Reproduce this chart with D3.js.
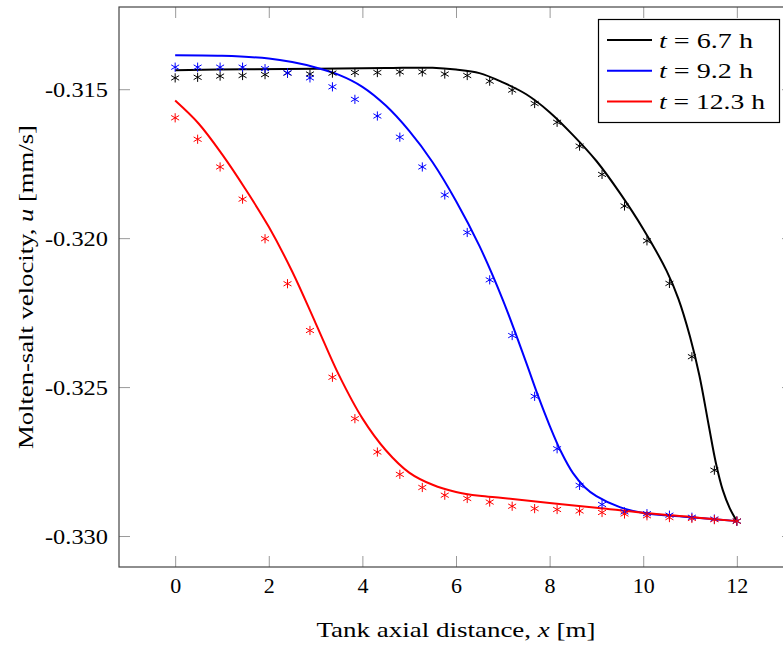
<!DOCTYPE html>
<html>
<head>
<meta charset="utf-8">
<script src="https://cdn.jsdelivr.net/npm/d3@7"></script>
<style>
  body { margin: 0; background: #fff; }
  svg text { font-family: "Liberation Serif", "DejaVu Serif", serif; }
</style>
</head>
<body>
<svg id="chart" width="783" height="646"></svg>
<script>
// ------------------------------------------------
// molten-salt velocity profiles along the tank
// lines = model, asterisks = measured points
// ------------------------------------------------

var seriesNames = ["t = 6.7 h", "t = 9.2 h", "t = 12.3 h"];
var seriesColors = ["#000000", "#0000ff", "#ff0000"];
var legendTimes = ["6.7", "9.2", "12.3"];

// marker positions along the tank [m]
var markerX = [0, 0.48, 0.96, 1.44, 1.92, 2.4, 2.88, 3.36, 3.84, 4.32, 4.8, 5.28, 5.76,
               6.24, 6.72, 7.2, 7.68, 8.16, 8.64, 9.12, 9.6, 10.08, 10.56, 11.04, 11.52, 12];

var markers67 = [-0.31462, -0.31460, -0.31456, -0.31454, -0.31451, -0.31446, -0.31449, -0.31446,
                 -0.31444, -0.31444, -0.31442, -0.31442, -0.31449, -0.31454, -0.31473, -0.31503,
                 -0.31548, -0.31611, -0.31691, -0.31786, -0.31892, -0.32009, -0.32152, -0.32398,
                 -0.32779, -0.32950];
var markers92 = [-0.31426, -0.31426, -0.31426, -0.31426, -0.31431, -0.31445, -0.31462, -0.31492,
                 -0.31534, -0.31590, -0.31661, -0.31761, -0.31855, -0.31981, -0.32140, -0.32327,
                 -0.32531, -0.32707, -0.32830, -0.32894, -0.32919, -0.32925, -0.32930, -0.32937,
                 -0.32943, -0.32950];
var markers123 = [-0.31596, -0.31668, -0.31761, -0.31869, -0.32002, -0.32153, -0.32310, -0.32467,
                  -0.32606, -0.32718, -0.32793, -0.32837, -0.32863, -0.32874, -0.32886, -0.32900,
                  -0.32908, -0.32911, -0.32916, -0.32921, -0.32926, -0.32932, -0.32938, -0.32941,
                  -0.32945, -0.32950];

// model curves
var line67X = [0, 1.5, 3, 4.5, 5.5, 6.0, 6.5, 7.0, 7.5, 8.0, 8.5, 9.0, 9.5, 10.0, 10.5,
               10.75, 11.0, 11.2, 11.4, 11.55, 11.7, 11.85, 12];
var line67U = [-0.31436, -0.31433, -0.31431, -0.31429, -0.31428, -0.31434, -0.31446, -0.31477,
               -0.31517, -0.31577, -0.31654, -0.31741, -0.31848, -0.31969, -0.32110,
               -0.32203, -0.32331, -0.32461, -0.32629, -0.32753, -0.32846, -0.32907, -0.32950];

var line92X = [0, 1.0, 2.0, 2.5, 3.0, 3.5, 4.0, 4.5, 5.0, 5.5, 6.0, 6.5, 7.0, 7.5, 7.75,
               8.0, 8.25, 8.5, 8.75, 9.0, 9.5, 10.0, 11.0, 12];
var line92U = [-0.31386, -0.31388, -0.31397, -0.31409, -0.31427, -0.31452, -0.31492, -0.31555,
               -0.31640, -0.31745, -0.31875, -0.32026, -0.32207, -0.32418, -0.32528,
               -0.32629, -0.32719, -0.32789, -0.32836, -0.32866, -0.32903, -0.32923,
               -0.32937, -0.32950];

var line123X = [0, 0.5, 1.0, 1.5, 2.0, 2.5, 3.0, 3.5, 4.0, 4.5, 5.0, 5.5, 6.0, 6.5, 7.0,
                8.0, 9.0, 10.0, 11.0, 12];
var line123U = [-0.31538, -0.31615, -0.31718, -0.31835, -0.31962, -0.32112, -0.32285, -0.32460,
                -0.32605, -0.32712, -0.32787, -0.32828, -0.32852, -0.32865, -0.32872,
                -0.32889, -0.32905, -0.32922, -0.32936, -0.32950];

var xTicks = [0, 2, 4, 6, 8, 10, 12];
var yTicks = [-0.315, -0.320, -0.325, -0.330];
var yTickLabels = ["-0.315", "-0.320", "-0.325", "-0.330"];

(function() {

	var svg = d3.select("#chart");

	// plot box (right edge runs off the page, like the reference)
	var left = 119, top = 7, right = 793, bottom = 567;
	var tickLen = 11;
	var fontSize = 22;

	var x = d3.scaleLinear().domain([-1.2, 13.2]).range([left, right]);
	var y = d3.scaleLinear().domain([-0.33104, -0.31224]).range([bottom, top]);

	// --------------------------------
	// axes - ticks point inward on all sides
	// --------------------------------
	var gBottom = svg.append("g").attr("transform", "translate(0," + bottom + ")")
		.call(d3.axisBottom(x).tickValues(xTicks).tickSize(-tickLen).tickFormat(d3.format("d")));
	gBottom.selectAll("text").attr("y", 26).attr("dy", 0);

	svg.append("g").attr("transform", "translate(0," + top + ")")
		.call(d3.axisTop(x).tickValues(xTicks).tickSize(-tickLen).tickFormat(""));

	var gLeft = svg.append("g").attr("transform", "translate(" + left + ",0)")
		.call(d3.axisLeft(y).tickValues(yTicks).tickSize(-tickLen).tickPadding(11)
			.tickFormat(function(d, i){ return yTickLabels[i]; }));
	// computer-modern digits run wider than Times
	gLeft.selectAll("text").attr("textLength", 63).attr("lengthAdjust", "spacingAndGlyphs");

	svg.append("g").attr("transform", "translate(" + right + ",0)")
		.call(d3.axisRight(y).tickValues(yTicks).tickSize(-tickLen).tickFormat(""));

	svg.selectAll(".domain").remove();
	svg.selectAll(".tick line").attr("stroke", "#9a9a9a").attr("stroke-width", 1);
	svg.selectAll(".tick text").attr("font-size", fontSize).attr("fill", "#000")
		.style("font-family", "'Liberation Serif', serif");

	svg.append("rect")
		.attr("x", left).attr("y", top)
		.attr("width", right - left).attr("height", bottom - top)
		.attr("fill", "none").attr("stroke", "#444").attr("stroke-width", 1.2);

	// --------------------------------
	// axis titles
	// --------------------------------
	var xl = svg.append("text")
		.attr("x", (left + right) / 2).attr("y", 637)
		.attr("text-anchor", "middle").attr("font-size", fontSize)
		.attr("textLength", 279).attr("lengthAdjust", "spacingAndGlyphs");
	xl.append("tspan").text("Tank axial distance, ");
	xl.append("tspan").attr("font-style", "italic").text("x");
	xl.append("tspan").text(" [m]");

	var yl = svg.append("text")
		.attr("transform", "translate(33," + ((top + bottom) / 2) + ") rotate(-90)")
		.attr("text-anchor", "middle").attr("font-size", fontSize)
		.attr("textLength", 324).attr("lengthAdjust", "spacingAndGlyphs");
	yl.append("tspan").text("Molten-salt velocity, ");
	yl.append("tspan").attr("font-style", "italic").text("u");
	yl.append("tspan").text(" [mm/s]");

	// --------------------------------
	// curves and asterisk markers
	// --------------------------------
	var lines = [
		{xs: line67X, us: line67U, m: markers67},
		{xs: line92X, us: line92U, m: markers92},
		{xs: line123X, us: line123U, m: markers123}
	];

	var lineGen = d3.line()
		.x(function(d){ return x(d[0]); })
		.y(function(d){ return y(d[1]); })
		.curve(d3.curveCatmullRom.alpha(0.5));

	var r = 4.6;
	var star = "M0," + (-r) + "L0," + r +
		"M" + (-r * 0.866) + "," + (-r * 0.5) + "L" + (r * 0.866) + "," + (r * 0.5) +
		"M" + (-r * 0.866) + "," + (r * 0.5) + "L" + (r * 0.866) + "," + (-r * 0.5);

	lines.forEach(function(s, k){
		var pts = s.xs.map(function(v, i){ return [v, s.us[i]]; });
		svg.append("path")
			.attr("d", lineGen(pts))
			.attr("fill", "none")
			.attr("stroke", seriesColors[k])
			.attr("stroke-width", 2);
	});

	lines.forEach(function(s, k){
		svg.append("g").selectAll("path")
			.data(s.m)
			.enter().append("path")
			.attr("d", star)
			.attr("transform", function(d, i){ return "translate(" + x(markerX[i]) + "," + y(d) + ")"; })
			.attr("fill", "none")
			.attr("stroke", seriesColors[k])
			.attr("stroke-width", 1);
	});

	// --------------------------------
	// legend
	// --------------------------------
	var lg = svg.append("g");
	lg.append("rect")
		.attr("x", 598.5).attr("y", 19.5).attr("width", 181).attr("height", 103)
		.attr("fill", "#fff").attr("stroke", "#000").attr("stroke-width", 1.2);

	var legendWidths = [94, 94, 106];
	seriesNames.forEach(function(name, i){
		var yy = 40 + i * 30.8;
		lg.append("line")
			.attr("x1", 607).attr("x2", 652).attr("y1", yy).attr("y2", yy)
			.attr("stroke", seriesColors[i]).attr("stroke-width", 2);
		var t = lg.append("text").attr("x", 659).attr("y", yy + 7.5).attr("font-size", fontSize)
			.attr("textLength", legendWidths[i]).attr("lengthAdjust", "spacingAndGlyphs");
		t.append("tspan").attr("font-style", "italic").text("t");
		t.append("tspan").text(" = " + legendTimes[i] + " h");
	});

})();
</script>
</body>
</html>
